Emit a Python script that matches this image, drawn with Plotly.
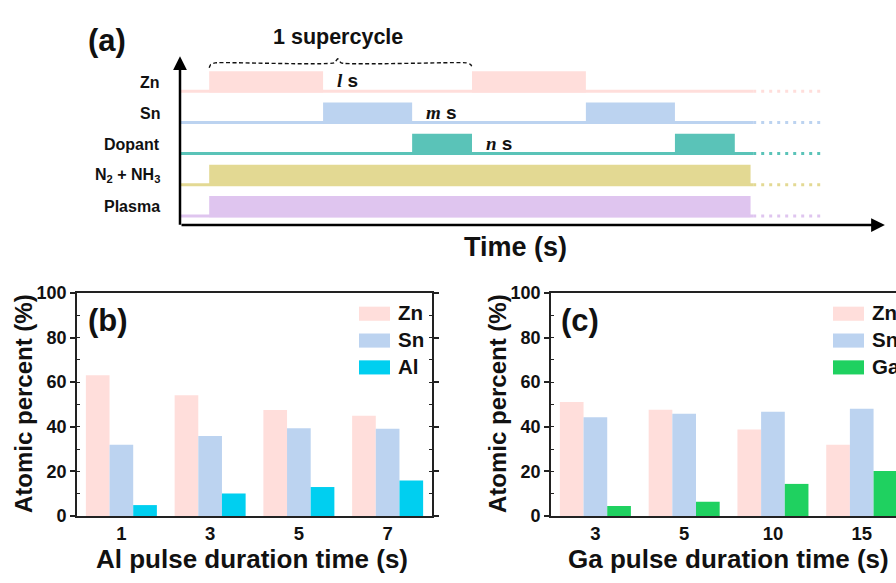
import plotly.graph_objects as go

W, H = 896, 583
FONT = "Arial, Liberation Sans, sans-serif"

# ---------------- data: panel (b) ----------------
al_times = ['1', '3', '5', '7']
zn_b = [63.1, 54.1, 47.5, 45.0]
sn_b = [32.0, 35.9, 39.4, 39.1]
al_b = [4.9, 10.1, 13.0, 15.9]

# ---------------- data: panel (c) ----------------
ga_times = ['3', '5', '10', '15']
zn_c = [51.1, 47.6, 38.8, 31.9]
sn_c = [44.3, 45.8, 46.8, 48.1]
ga_c = [4.5, 6.4, 14.4, 20.2]

# ---------------- data: panel (a) timing diagram ----------------
row_names = ['Zn', 'Sn', 'Dopant', 'N<sub>2</sub> + NH<sub>3</sub>', 'Plasma']
row_levels = [4, 3, 2, 1, 0]
cycle_start = 1.0
pulse_l = 3.9    # Zn pulse
pulse_m = 3.05   # Sn pulse
pulse_n = 2.05   # dopant pulse
n_cycles = 2
gas_end = 19.54
line_end = 19.63
dot_end = 22.03
axis_end = 24.14
pulse_h = 0.64

# ---------------- colours ----------------
C_ZN = '#FFDEDB'
C_SN = '#BCD3F0'
C_AL = '#00CFF0'
C_GA = '#1FD160'
C_DOP = '#5AC3B8'
C_GAS = '#E3D993'
C_PLA = '#DFC5EF'
row_colors = [C_ZN, C_SN, C_DOP, C_GAS, C_PLA]


def px_x(p):
    return p / W


def px_y(p):
    return 1 - p / H


fig = go.Figure()

# ---------------- panels (b), (c) bars ----------------
for vals, col in [(zn_b, C_ZN), (sn_b, C_SN), (al_b, C_AL)]:
    fig.add_trace(go.Bar(x=al_times, y=vals, marker=dict(color=col, line=dict(width=0)),
                         xaxis='x', yaxis='y', showlegend=False))
for vals, col in [(zn_c, C_ZN), (sn_c, C_SN), (ga_c, C_GA)]:
    fig.add_trace(go.Bar(x=ga_times, y=vals, marker=dict(color=col, line=dict(width=0)),
                         xaxis='x2', yaxis='y2', showlegend=False))

# ---------------- panel (a) ----------------
cycle_len = pulse_l + pulse_m + pulse_n
pulses = {0: [], 1: [], 2: [], 3: [], 4: []}
for k in range(n_cycles):
    s = cycle_start + k * cycle_len
    pulses[0].append((s, s + pulse_l))
    pulses[1].append((s + pulse_l, s + pulse_l + pulse_m))
    pulses[2].append((s + pulse_l + pulse_m, s + cycle_len))
pulses[3].append((cycle_start, gas_end))
pulses[4].append((cycle_start, gas_end))

shapes = []
for i, lvl in enumerate(row_levels):
    col = row_colors[i]
    fig.add_trace(go.Scatter(x=[0, line_end], y=[lvl, lvl], mode='lines',
                             line=dict(color=col, width=3), xaxis='x3', yaxis='y3',
                             showlegend=False, hoverinfo='skip'))
    fig.add_trace(go.Scatter(x=[line_end, dot_end], y=[lvl, lvl], mode='lines',
                             line=dict(color=col, width=3, dash='3px,5px'), xaxis='x3', yaxis='y3',
                             showlegend=False, hoverinfo='skip'))
    for (a, b) in pulses[i]:
        shapes.append(dict(type='rect', xref='x3', yref='y3', x0=a, x1=b, y0=lvl - 0.04,
                           y1=lvl + pulse_h, fillcolor=col, line=dict(width=0), layer='above'))

# supercycle bracket
bl = cycle_start
br = cycle_start + cycle_len
bm = (bl + br) / 2 - 0.1
br_x = [bl, bl + 0.05, bl + 0.2, bm - 0.12, bm, bm + 0.12, br - 0.2, br - 0.05, br]
br_y = [4.75, 4.86, 4.91, 4.91, 5.04, 4.91, 4.91, 4.86, 4.78]
fig.add_trace(go.Scatter(x=br_x, y=br_y, mode='lines',
                         line=dict(color='#111', width=1.4, dash='4px,2.5px', shape='spline', smoothing=0.5),
                         xaxis='x3', yaxis='y3', showlegend=False, hoverinfo='skip'))

annotations = []
# axes arrows
annotations.append(dict(x=axis_end, y=-0.29, ax=0, ay=-0.29, xref='x3', yref='y3', axref='x3', ayref='y3',
                        showarrow=True, arrowhead=2, arrowsize=1.1, arrowwidth=2.5, arrowcolor='black',
                        text='', standoff=0, startstandoff=0))
annotations.append(dict(x=0, y=5.12, ax=0, ay=-0.29 - 0.04, xref='x3', yref='y3', axref='x3', ayref='y3',
                        showarrow=True, arrowhead=2, arrowsize=1.1, arrowwidth=2.5, arrowcolor='black',
                        text='', standoff=0, startstandoff=0))
for name, lvl in zip(row_names, row_levels):
    annotations.append(dict(x=px_x(162), y=lvl + 0.29, xref='paper', yref='y3', text=f'<b>{name}</b>',
                            showarrow=False, xanchor='right', yanchor='middle',
                            font=dict(family=FONT, size=16, color='#111')))

serif = 'font-family:Liberation Serif;font-style:italic'
dur_labels = [('l', pulses[0][0][1], 4), ('m', pulses[1][0][1], 3), ('n', pulses[2][0][1], 2)]
for sym, xend, lvl in dur_labels:
    annotations.append(dict(x=xend + 0.4, y=lvl + 0.33, xref='x3', yref='y3',
                            text=f'<b><span style="{serif}">{sym}</span> s</b>',
                            showarrow=False, xanchor='left', yanchor='middle',
                            font=dict(family=FONT, size=19, color='#111')))

annotations.append(dict(x=px_x(338), y=px_y(28), xref='paper', yref='paper', text='<b>1 supercycle</b>',
                        showarrow=False, xanchor='center', yanchor='middle',
                        font=dict(family=FONT, size=21.5, color='#111')))
annotations.append(dict(x=px_x(515), y=px_y(245), xref='paper', yref='paper', text='<b>Time (s)</b>',
                        showarrow=False, xanchor='center', yanchor='middle',
                        font=dict(family=FONT, size=27, color='#111')))
annotations.append(dict(x=px_x(86), y=px_y(32), xref='paper', yref='paper', text='<b>(a)</b>',
                        showarrow=False, xanchor='left', yanchor='middle',
                        font=dict(family=FONT, size=31, color='#111')))

# panel letters & titles for (b), (c)
annotations.append(dict(x=px_x(86), y=px_y(322), xref='paper', yref='paper', text='<b>(b)</b>',
                        showarrow=False, xanchor='left', yanchor='middle',
                        font=dict(family=FONT, size=31, color='#111')))
annotations.append(dict(x=px_x(559), y=px_y(322), xref='paper', yref='paper', text='<b>(c)</b>',
                        showarrow=False, xanchor='left', yanchor='middle',
                        font=dict(family=FONT, size=31, color='#111')))
annotations.append(dict(x=px_x(252), y=px_y(569), xref='paper', yref='paper',
                        text='<b>Al pulse duration time (s)</b>', showarrow=False,
                        xanchor='center', yanchor='middle', font=dict(family=FONT, size=26, color='#111')))
annotations.append(dict(x=px_x(728), y=px_y(569), xref='paper', yref='paper',
                        text='<b>Ga pulse duration time (s)</b>', showarrow=False,
                        xanchor='center', yanchor='middle', font=dict(family=FONT, size=26, color='#111')))
for xc in (23, 497):
    annotations.append(dict(x=px_x(xc), y=px_y(408), xref='paper', yref='paper',
                            text='<b>Atomic percent (%)</b>', showarrow=False, textangle=-90,
                            xanchor='center', yanchor='middle', font=dict(family=FONT, size=24, color='#111')))

# manual legends
leg_items_b = [('Zn', C_ZN), ('Sn', C_SN), ('Al', C_AL)]
leg_items_c = [('Zn', C_ZN), ('Sn', C_SN), ('Ga', C_GA)]
for items, x0 in ((leg_items_b, 359), (leg_items_c, 833)):
    for j, (name, col) in enumerate(items):
        yc = 314.5 + j * 27.8
        shapes.append(dict(type='rect', xref='paper', yref='paper', x0=px_x(x0), x1=px_x(x0 + 31),
                           y0=px_y(yc - 7.3), y1=px_y(yc + 7.3), fillcolor=col, line=dict(width=0)))
        annotations.append(dict(x=px_x(x0 + 37), y=px_y(yc - 1), xref='paper', yref='paper',
                                text=f'<b>{name}</b>', showarrow=False, xanchor='left', yanchor='middle',
                                font=dict(family=FONT, size=20.5, color='#111')))

# axis geometry for panel (a)
xpx_per_t = 29.2
x0_px = 180
ypx_per_u = 32.3
y0_px = 213.3
xr = [0, 24.4]
yr = [-0.3, 5.2]

yaxis_common = dict(range=[0, 100], dtick=20, tick0=0, ticks='outside', ticklen=5, tickwidth=1.5,
                    tickcolor='#222', showline=True, linecolor='#222', linewidth=1.6, showgrid=False,
                    zeroline=False, tickfont=dict(family=FONT, size=18, color='#111', weight='bold'),
                    minor=dict(dtick=10, ticks='inside', ticklen=3, tickwidth=1.2, tickcolor='#222'))
xaxis_common = dict(type='category', ticks='', showline=True, linecolor='#222', linewidth=1.6,
                    showgrid=False, zeroline=False,
                    tickfont=dict(family=FONT, size=18.5, color='#111', weight='bold'))

fig.update_layout(
    width=W, height=H, margin=dict(l=0, r=0, t=0, b=0),
    paper_bgcolor='white', plot_bgcolor='white',
    barmode='group', bargap=0.2, bargroupgap=0,
    xaxis=dict(domain=[px_x(77), px_x(432)], anchor='y', range=[-0.5, 3.5], mirror=True, **xaxis_common),
    yaxis=dict(domain=[px_y(524), px_y(293)], anchor='x', mirror='allticks', **yaxis_common),
    xaxis2=dict(domain=[px_x(551), 1.0], anchor='y2', range=[-0.5, 3.386], mirror=True, **xaxis_common),
    yaxis2=dict(domain=[px_y(524), px_y(293)], anchor='x2', mirror=False, **yaxis_common),
    xaxis3=dict(domain=[px_x(x0_px + xr[0] * xpx_per_t), px_x(x0_px + xr[1] * xpx_per_t)],
                range=xr, visible=False, anchor='y3'),
    yaxis3=dict(domain=[px_y(y0_px - yr[0] * ypx_per_u), px_y(y0_px - yr[1] * ypx_per_u)],
                range=yr, visible=False, anchor='x3'),
    shapes=shapes, annotations=annotations, showlegend=False,
)

fig.write_html('out.html')
